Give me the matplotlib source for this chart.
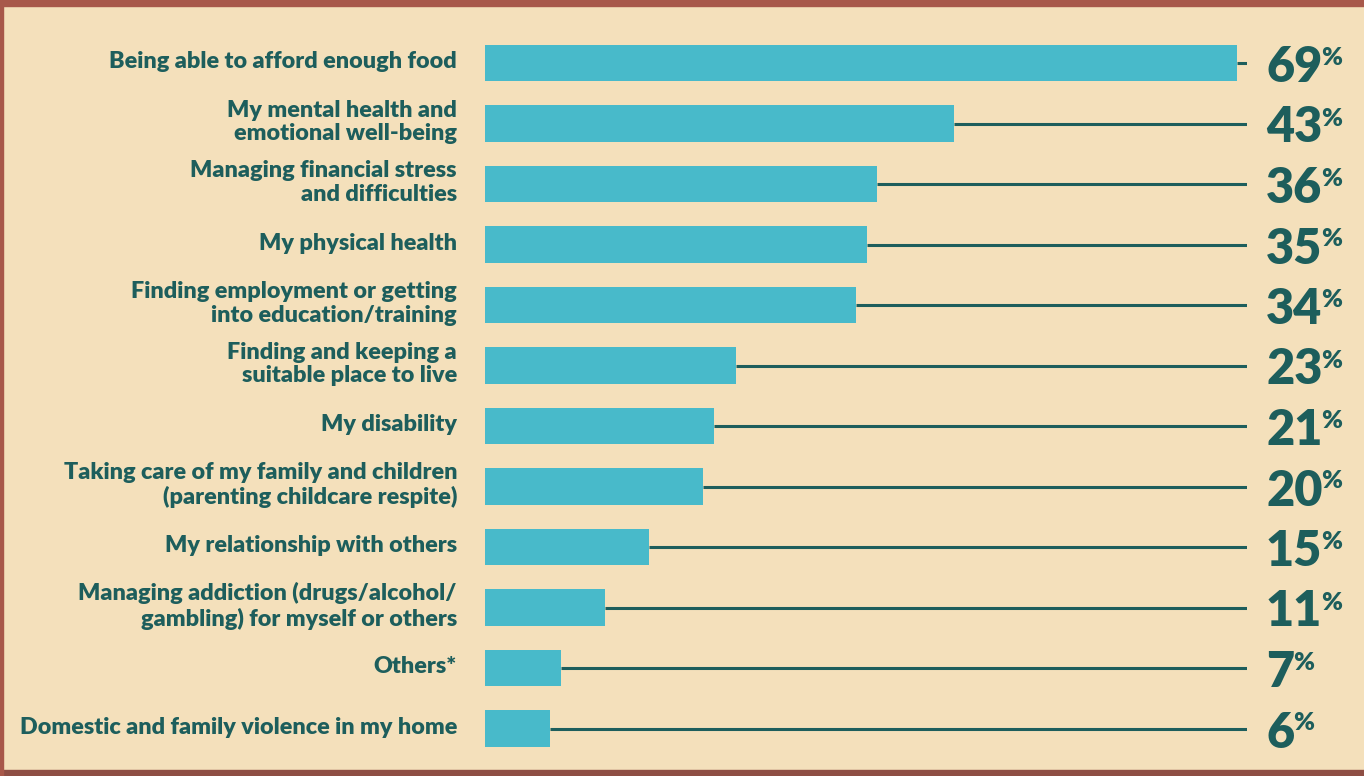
import matplotlib
matplotlib.use("Agg")
import matplotlib.pyplot as plt
import numpy as np

categories = [
    "Being able to afford enough food",
    "My mental health and\nemotional well-being",
    "Managing financial stress\nand difficulties",
    "My physical health",
    "Finding employment or getting\ninto education/training",
    "Finding and keeping a\nsuitable place to live",
    "My disability",
    "Taking care of my family and children\n(parenting childcare respite)",
    "My relationship with others",
    "Managing addiction (drugs/alcohol/\ngambling) for myself or others",
    "Others*",
    "Domestic and family violence in my home",
]
values = [69, 43, 36, 35, 34, 23, 21, 20, 15, 11, 7, 6]

BAR = "#48BACA"
TEXT = "#1D5E5C"
BG = "#F4E0BB"

W, H = 1364, 776
fig = plt.figure(figsize=(W / 100, H / 100), dpi=100)
fig.patch.set_facecolor(BG)

# decorative edge strips
fig.add_artist(plt.Rectangle((0, 1 - 6 / H), 1, 6 / H, transform=fig.transFigure, color="#A8584A", zorder=0))
fig.add_artist(plt.Rectangle((0, 0), 1, 6 / H, transform=fig.transFigure, color="#8E4E44", zorder=0))
fig.add_artist(plt.Rectangle((0, 0), 3 / W, 1, transform=fig.transFigure, color="#A8584A", zorder=0))

left_px, right_px = 485, 1247
top_px, bot_px = 32.75, 758.75
ax = fig.add_axes([left_px / W, 1 - bot_px / H, (right_px - left_px) / W, (bot_px - top_px) / H])
ax.set_facecolor("none")
xmax = (right_px - left_px) / 10.9
ax.set_xlim(0, xmax)
n = len(values)
ax.set_ylim(n - 0.5, -0.5)
ax.axis("off")

y = np.arange(n)
for yi, v in zip(y, values):
    ax.plot([v, xmax], [yi, yi], color=TEXT, lw=2.2, solid_capstyle="butt", zorder=1)
ax.barh(y, values, height=0.6, color=BAR, zorder=2)

fig.canvas.draw()
renderer = fig.canvas.get_renderer()
for yi, (cat, v) in enumerate(zip(categories, values)):
    yc_px = top_px + (yi + 0.5) * (bot_px - top_px) / n
    yc = 1 - (yc_px - 1.5) / H
    fig.text(457 / W, yc, cat, ha="right", va="center", fontsize=16.8,
             family="Lato", fontweight="heavy", color=TEXT, linespacing=1.17)
    t = fig.text(1266 / W, 1 - (yc_px + 19) / H, f"{v}", ha="left", va="baseline", fontsize=35,
                 family="Lato", fontweight="heavy", color=TEXT)
    bb = t.get_window_extent(renderer)
    fig.text((bb.x1 - 1) / W, 1 - (yc_px + 2) / H, "%", ha="left", va="baseline", fontsize=18,
             family="Lato", fontweight="heavy", color=TEXT)

fig.savefig("out.png", dpi=100, facecolor=BG)
